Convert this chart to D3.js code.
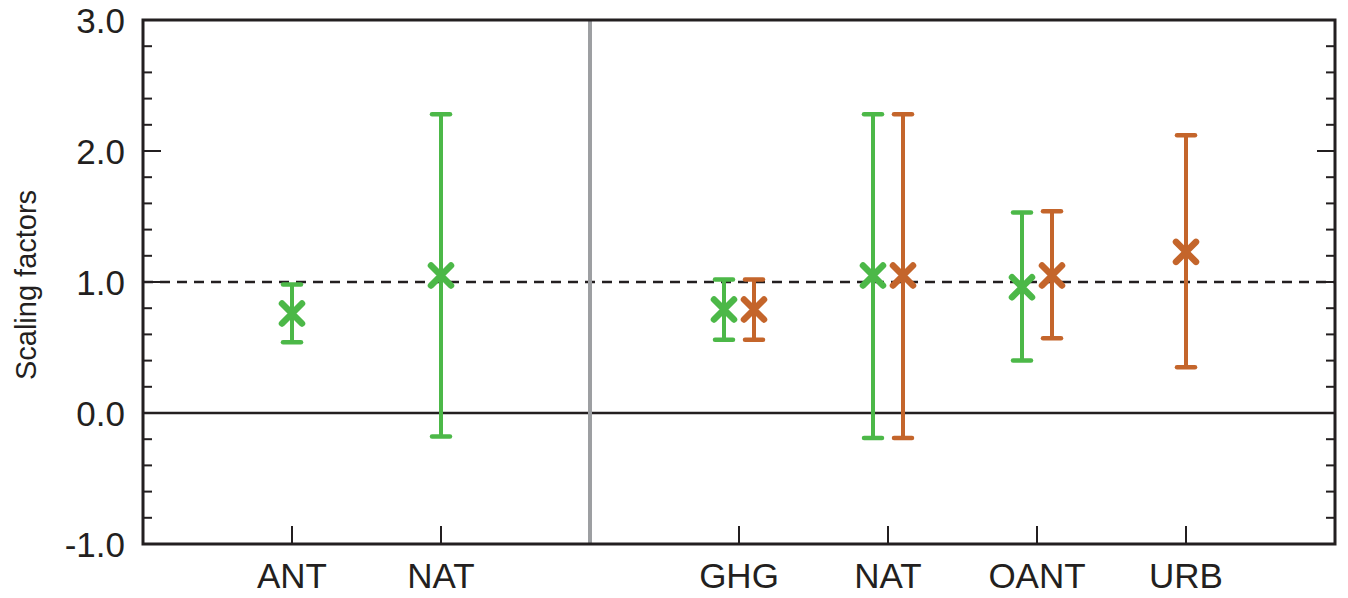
<!DOCTYPE html>
<html>
<head>
<meta charset="utf-8">
<script src="https://cdn.jsdelivr.net/npm/d3@7"></script>
<style>
  body { margin: 0; background: #fff; }
  svg text { font-family: "Liberation Sans", Arial, Helvetica, sans-serif; fill: #231f20; }
</style>
</head>
<body>
<svg width="1348" height="598"></svg>
<script>
// slot positions on the x axis (slot 2 holds the divider)
const categories = ["ANT", "NAT", "GHG", "NAT", "OANT", "URB"];
const slots = [0, 1, 3, 4, 5, 6];
const dividerSlot = 2;
const yTicks = [-1, 0, 1, 2, 3];

// green series, null = absent
const greenBest = [0.76, 1.05, 0.79, 1.05, 0.96, null];
const greenLow  = [0.54, -0.18, 0.56, -0.19, 0.40, null];
const greenHigh = [0.98, 2.28, 1.02, 2.28, 1.53, null];

// orange series
const orangeBest = [null, null, 0.79, 1.05, 1.05, 1.23];
const orangeLow  = [null, null, 0.56, -0.19, 0.57, 0.35];
const orangeHigh = [null, null, 1.02, 2.28, 1.54, 2.12];

const green = "#4cb848";
const orange = "#c4652b";
const ink = "#231f20";

const svg = d3.select("svg");
const margin = { left: 143, right: 13, top: 20, bottom: 54 };
const width = 1348 - margin.left - margin.right;
const height = 598 - margin.top - margin.bottom;

const x = d3.scaleLinear().domain([-1, 7]).range([margin.left, margin.left + width]);
const y = d3.scaleLinear().domain([-1, 3]).range([margin.top + height, margin.top]);

// reference lines
svg.append("line")
    .attr("x1", x(-1)).attr("x2", x(7))
    .attr("y1", y(0)).attr("y2", y(0))
    .attr("stroke", ink).attr("stroke-width", 2.5);

svg.append("line")
    .attr("x1", x(-1)).attr("x2", x(7))
    .attr("y1", y(1)).attr("y2", y(1))
    .attr("stroke", ink).attr("stroke-width", 2.5)
    .attr("stroke-dasharray", "10,7");

svg.append("line")
    .attr("x1", x(dividerSlot)).attr("x2", x(dividerSlot))
    .attr("y1", y(3)).attr("y2", y(-1))
    .attr("stroke", "#9d9fa2").attr("stroke-width", 4);

// minor / major ticks on both sides
const minor = d3.range(-1, 3.001, 0.2).map(v => +v.toFixed(1));
minor.forEach(v => {
    const len = yTicks.includes(v) ? 18 : 9;
    svg.append("line")
        .attr("x1", x(-1)).attr("x2", x(-1) + len)
        .attr("y1", y(v)).attr("y2", y(v))
        .attr("stroke", ink).attr("stroke-width", 2);
    svg.append("line")
        .attr("x1", x(7)).attr("x2", x(7) - len)
        .attr("y1", y(v)).attr("y2", y(v))
        .attr("stroke", ink).attr("stroke-width", 2);
});

// y tick labels (plain hyphen for the minus, as in the original)
svg.selectAll(".ylab").data(yTicks).join("text")
    .attr("class", "ylab")
    .attr("x", x(-1) - 18)
    .attr("y", d => y(d))
    .attr("dy", "0.36em")
    .attr("text-anchor", "end")
    .attr("font-size", 35)
    .text(d => d.toFixed(1));

// x ticks and labels
slots.forEach((s, i) => {
    svg.append("line")
        .attr("x1", x(s)).attr("x2", x(s))
        .attr("y1", y(-1)).attr("y2", y(-1) - 18)
        .attr("stroke", ink).attr("stroke-width", 2);
    svg.append("text")
        .attr("x", x(s)).attr("y", 588)
        .attr("text-anchor", "middle")
        .attr("font-size", 35)
        .text(categories[i]);
});

// frame
svg.append("rect")
    .attr("x", x(-1)).attr("y", y(3))
    .attr("width", width).attr("height", height)
    .attr("fill", "none").attr("stroke", ink).attr("stroke-width", 3);

// y axis title
svg.append("text")
    .attr("transform", `translate(36,${y(1) + 3}) rotate(-90)`)
    .attr("text-anchor", "middle")
    .attr("font-size", 29)
    .text("Scaling factors");

function drawMark(cx, best, low, high, color) {
    const g = svg.append("g")
        .attr("stroke", color)
        .attr("fill", "none")
        .attr("stroke-linecap", "round");
    g.append("line")
        .attr("x1", cx).attr("x2", cx)
        .attr("y1", y(low)).attr("y2", y(high))
        .attr("stroke-width", 4).attr("stroke-linecap", "butt");
    [low, high].forEach(v => {
        g.append("line")
            .attr("x1", cx - 9).attr("x2", cx + 9)
            .attr("y1", y(v)).attr("y2", y(v))
            .attr("stroke-width", 4.5);
    });
    const r = 10, cy = y(best);
    g.append("path")
        .attr("d", `M${cx - r},${cy - r}L${cx + r},${cy + r}M${cx - r},${cy + r}L${cx + r},${cy - r}`)
        .attr("stroke-width", 6.5);
}

// side-by-side offset only where both series share a slot
categories.forEach((c, i) => {
    const both = greenBest[i] !== null && orangeBest[i] !== null;
    if (greenBest[i] !== null)
        drawMark(x(slots[i]) - (both ? 15 : 0), greenBest[i], greenLow[i], greenHigh[i], green);
    if (orangeBest[i] !== null)
        drawMark(x(slots[i]) + (both ? 15 : 0), orangeBest[i], orangeLow[i], orangeHigh[i], orange);
});
</script>
</body>
</html>
